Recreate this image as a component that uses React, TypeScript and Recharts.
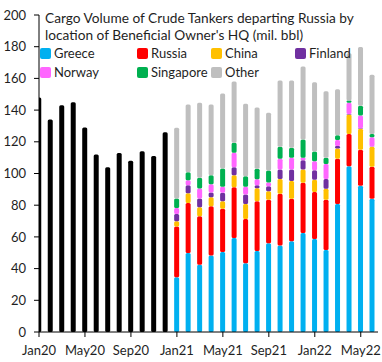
import { BarChart, Bar, XAxis, YAxis } from "recharts";

const months = [
  "Jan20", "Feb20", "Mar20", "Apr20", "May20", "Jun20", "Jul20", "Aug20", "Sep20", "Oct20", "Nov20", "Dec20",
  "Jan21", "Feb21", "Mar21", "Apr21", "May21", "Jun21", "Jul21", "Aug21", "Sep21", "Oct21", "Nov21", "Dec21",
  "Jan22", "Feb22", "Mar22", "Apr22", "May22", "Jun22",
];

// 2020: total only (no owner breakdown)
const total2020 = [148, 134, 143, 145, 129, 112, 104, 113, 108, 114, 111, 126];

// Jan21 - Jun22, by owner HQ (mil. bbl)
const greece = [34.5, 49.8, 42.4, 48.3, 50.4, 59.3, 43.3, 51.1, 56, 54.6, 57.3, 62.5, 58.7, 51.8, 80.8, 104.6, 92.2, 84];
const russia = [32, 31.6, 30.6, 31, 27.3, 32, 28, 31.4, 27.5, 32.6, 26.7, 31.6, 29.7, 31.6, 28.5, 20.3, 22.8, 20.2];
const china = [3.3, 6.1, 5.7, 5.7, 4.8, 7.6, 9.5, 8.2, 5.3, 9.4, 11.3, 8.4, 7.6, 6.9, 6.5, 12.4, 13.3, 12.6];
const finland = [4.6, 5.1, 5.5, 3, 5.3, 5.1, 5.9, 1.9, 3.2, 5.9, 7.2, 5.9, 6.1, 6.3, 1.5, 0.3, 0.3, 0.3];
const norway = [3.8, 3.2, 6.3, 5.2, 3.8, 9.1, 4.9, 3.8, 2.3, 6.8, 7.4, 1.5, 5.7, 9.4, 3.8, 7.1, 8, 5.8];
const singapore = [6, 5, 6.8, 5.7, 11.6, 6.3, 6.6, 6.6, 7.6, 7.6, 6.4, 11.6, 6.1, 3.9, 3, 1.3, 6.1, 2.1];
const other = [44.7, 42.7, 47.4, 44.6, 47.2, 38.6, 45.8, 38.6, 36.5, 41.8, 42.4, 46, 43.7, 42, 29.1, 29.9, 37.1, 37.3];

const xTicks = [0, 4, 8, 12, 16, 20, 24, 28];
const yTicks = [0, 20, 40, 60, 80, 100, 120, 140, 160, 180, 200];

const SERIES = [
  { key: "Greece", values: greece, color: "#00B0F0" },
  { key: "Russia", values: russia, color: "#FF0000" },
  { key: "China", values: china, color: "#FFC000" },
  { key: "Finland", values: finland, color: "#7030A0" },
  { key: "Norway", values: norway, color: "#FF66FF" },
  { key: "Singapore", values: singapore, color: "#00B050" },
  { key: "Other", values: other, color: "#BFBFBF" },
];

const data = months.map((m, i) => {
  const row: Record<string, number | string | undefined> = { idx: i, month: m };
  if (i < 12) row.total = total2020[i];
  else for (const s of SERIES) row[s.key] = s.values[i - 12];
  return row;
});

const FONT = "Lato, 'Open Sans', sans-serif";
const TEXT = "#1f1f1f";

// legend grid: 4 columns, 2 rows (same order as Excel)
const legendCols = [40, 137, 211, 295];

export default function App() {
  return (
    <div style={{ position: "absolute", left: 0, top: 0, width: 382, height: 362, fontFamily: FONT, background: "#fff" }}>
      <BarChart width={382} height={362} data={data} margin={{ top: 15, right: 4, bottom: 0, left: 0 }}>
        <XAxis
          type="number"
          dataKey="idx"
          domain={[0, 29.5]}
          ticks={xTicks}
          tickFormatter={(v: number) => months[v]}
          height={30}
          tickSize={5}
          tickMargin={9}
          stroke="#000"
          tick={{ fill: TEXT, fontSize: 13, fontFamily: FONT }}
          allowDataOverflow
        />
        <YAxis
          domain={[0, 200]}
          ticks={yTicks}
          width={39}
          tickSize={5}
          tickMargin={8}
          stroke="#000"
          tick={{ fill: TEXT, fontSize: 13, fontFamily: FONT }}
        />
        <Bar dataKey="total" stackId="a" fill="#000" barSize={5} radius={1.5} isAnimationActive={false} />
        {SERIES.map((s) => (
          <Bar key={s.key} dataKey={s.key} stackId="a" fill={s.color} barSize={5} radius={1.5} isAnimationActive={false} />
        ))}
      </BarChart>
      <div style={{ position: "absolute", left: 45, top: 9, fontSize: 13.7, lineHeight: "17px", color: TEXT, whiteSpace: "nowrap" }}>
        Cargo Volume of Crude Tankers departing Russia by
        <br />
        location of Beneficial Owner's HQ (mil. bbl)
      </div>
      {SERIES.map((s, i) => (
        <div
          key={s.key}
          style={{
            position: "absolute",
            left: legendCols[i % 4],
            top: i < 4 ? 45 : 64,
            display: "flex",
            alignItems: "center",
            fontSize: 13,
            lineHeight: "17px",
            color: TEXT,
            whiteSpace: "nowrap",
          }}
        >
          <span style={{ display: "inline-block", width: 11, height: 11, borderRadius: 2, background: s.color, marginRight: 3 }} />
          {s.key}
        </div>
      ))}
    </div>
  );
}
